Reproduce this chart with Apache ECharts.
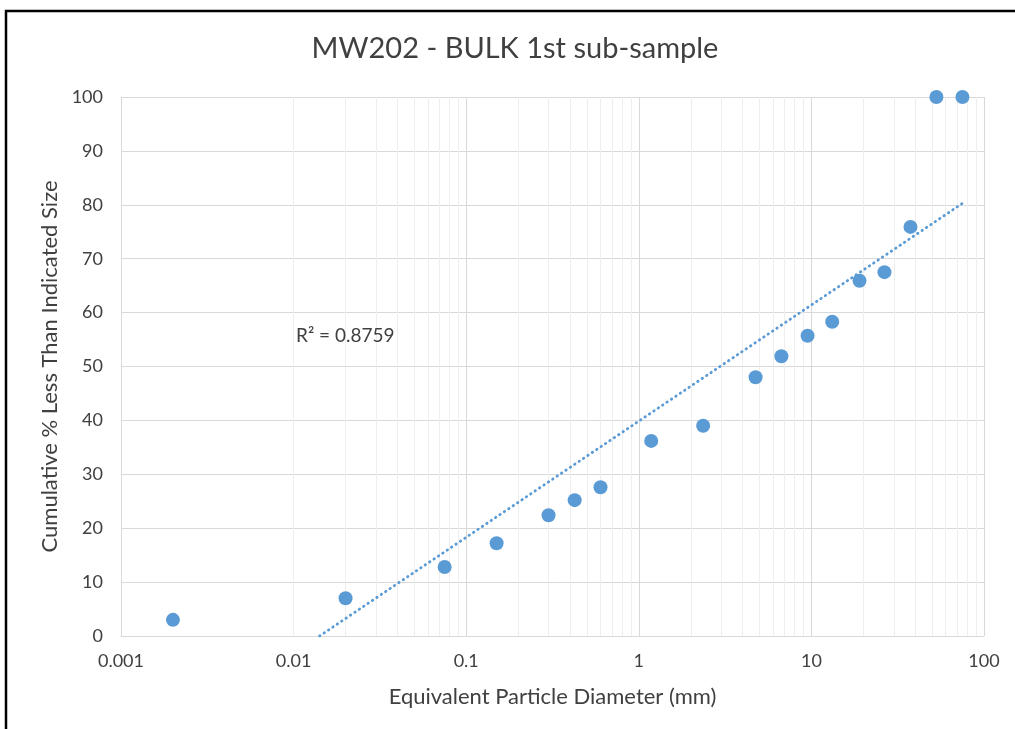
<!DOCTYPE html>
<html>
<head>
<meta charset="utf-8">
<script src="https://cdn.jsdelivr.net/npm/echarts@6/dist/echarts.min.js"></script>
<style>
  html, body { margin: 0; padding: 0; background: #ffffff; }
  #chart { width: 1015px; height: 729px; }
</style>
</head>
<body>
<div id="chart"></div>
<script>
// Sieve / hydrometer results for MW202 bulk sample (first sub-sample)
const diameters = [0.002, 0.02, 0.075, 0.15, 0.3, 0.425, 0.6, 1.18, 2.36, 4.75, 6.7, 9.5, 13.2, 19, 26.5, 37.5, 53, 75];
const percentPassing = [3, 7, 12.8, 17.2, 22.4, 25.2, 27.6, 36.2, 39, 48, 51.9, 55.7, 58.3, 65.9, 67.5, 75.9, 100, 100];
const xTickLabels = ['0.001', '0.01', '0.1', '1', '10', '100'];
const rSquaredText = 'R\u00B2 = 0.8759';

const FONT = 'Lato';
const BLUE = '#5B9BD5';
const TEXT = '#404040';

// Logarithmic least-squares trend: y = a * log10(x) + b
const lx = diameters.map(d => Math.log10(d));
const n = lx.length;
const mx = lx.reduce((s, v) => s + v, 0) / n;
const my = percentPassing.reduce((s, v) => s + v, 0) / n;
let sxy = 0, sxx = 0;
for (let i = 0; i < n; i++) {
  sxy += (lx[i] - mx) * (percentPassing[i] - my);
  sxx += (lx[i] - mx) * (lx[i] - mx);
}
const slope = sxy / sxx;
const intercept = my - slope * mx;
const xMaxData = Math.max(...diameters);
const xStart = Math.pow(10, -intercept / slope); // where the trend meets 0 %
const trendData = [[xStart, 0], [xMaxData, slope * Math.log10(xMaxData) + intercept]];

// Minor vertical grid lines (2..9 within each decade)
const minorLines = [];
for (let e = -3; e < 2; e++) {
  for (let m = 2; m <= 9; m++) {
    minorLines.push({ xAxis: Number((m * Math.pow(10, e)).toPrecision(6)) });
  }
}

const chart = echarts.init(document.getElementById('chart'));
chart.setOption({
  backgroundColor: '#ffffff',
  animation: false,
  grid: { left: 121, right: 31, top: 97, bottom: 93 },
  xAxis: {
    type: 'log',
    logBase: 10,
    min: 0.001,
    max: 100,
    name: 'Equivalent Particle Diameter (mm)',
    nameLocation: 'middle',
    nameGap: 50,
    nameTextStyle: { fontFamily: FONT, fontSize: 22, color: TEXT },
    axisLine: { show: true, lineStyle: { color: '#D9D9D9', width: 1 } },
    axisTick: { show: false },
    axisLabel: {
      margin: 16,
      fontFamily: FONT, fontSize: 18, color: TEXT,
      formatter: v => {
        const e = Math.round(Math.log10(v)) + 3;
        return xTickLabels[e] !== undefined ? xTickLabels[e] : '';
      }
    },
    splitLine: { show: true, lineStyle: { color: '#D9D9D9', width: 1 } }
  },
  yAxis: {
    type: 'value',
    min: 0,
    max: 100,
    interval: 10,
    name: 'Cumulative % Less Than Indicated Size',
    nameLocation: 'middle',
    nameGap: 60,
    nameRotate: 90,
    nameTextStyle: { fontFamily: FONT, fontSize: 22, color: TEXT },
    axisLine: { show: false },
    axisTick: { show: false },
    axisLabel: { margin: 18, fontFamily: FONT, fontSize: 18, color: TEXT },
    splitLine: { show: true, lineStyle: { color: '#D9D9D9', width: 1 } }
  },
  series: [
    {
      name: 'minor grid',
      type: 'line',
      data: [],
      silent: true,
      z: 0,
      markLine: {
        z: 0,
        silent: true,
        symbol: ['none', 'none'],
        label: { show: false },
        lineStyle: { color: '#EEEEEE', type: 'solid', width: 1 },
        emphasis: { disabled: true },
        data: minorLines
      }
    },
    {
      name: 'Log trend',
      type: 'line',
      data: trendData,
      showSymbol: false,
      silent: true,
      z: 2,
      lineStyle: { color: BLUE, width: 2.8, type: [0.5, 4.8], cap: 'round' }
    },
    {
      name: 'MW202 - BULK 1st sub-sample',
      type: 'scatter',
      data: diameters.map((d, i) => [d, percentPassing[i]]),
      symbol: 'circle',
      symbolSize: 14,
      z: 3,
      itemStyle: { color: BLUE, opacity: 1 }
    }
  ],
  graphic: [
    {
      type: 'text',
      z: 100,
      style: {
        text: 'MW202 - BULK 1st sub-sample',
        x: 515, y: 49,
        align: 'center', verticalAlign: 'middle',
        fontFamily: FONT, fontSize: 29, fill: TEXT
      }
    },
    {
      type: 'text',
      z: 100,
      style: {
        text: rSquaredText,
        x: 296, y: 336,
        align: 'left', verticalAlign: 'middle',
        fontFamily: FONT, fontSize: 19, fill: TEXT
      }
    },
    {
      type: 'polyline',
      z: 100,
      shape: { points: [[6, 729], [6, 11], [1015, 11]] },
      style: { stroke: '#000000', lineWidth: 2.5, fill: null }
    }
  ]
});
</script>
</body>
</html>
